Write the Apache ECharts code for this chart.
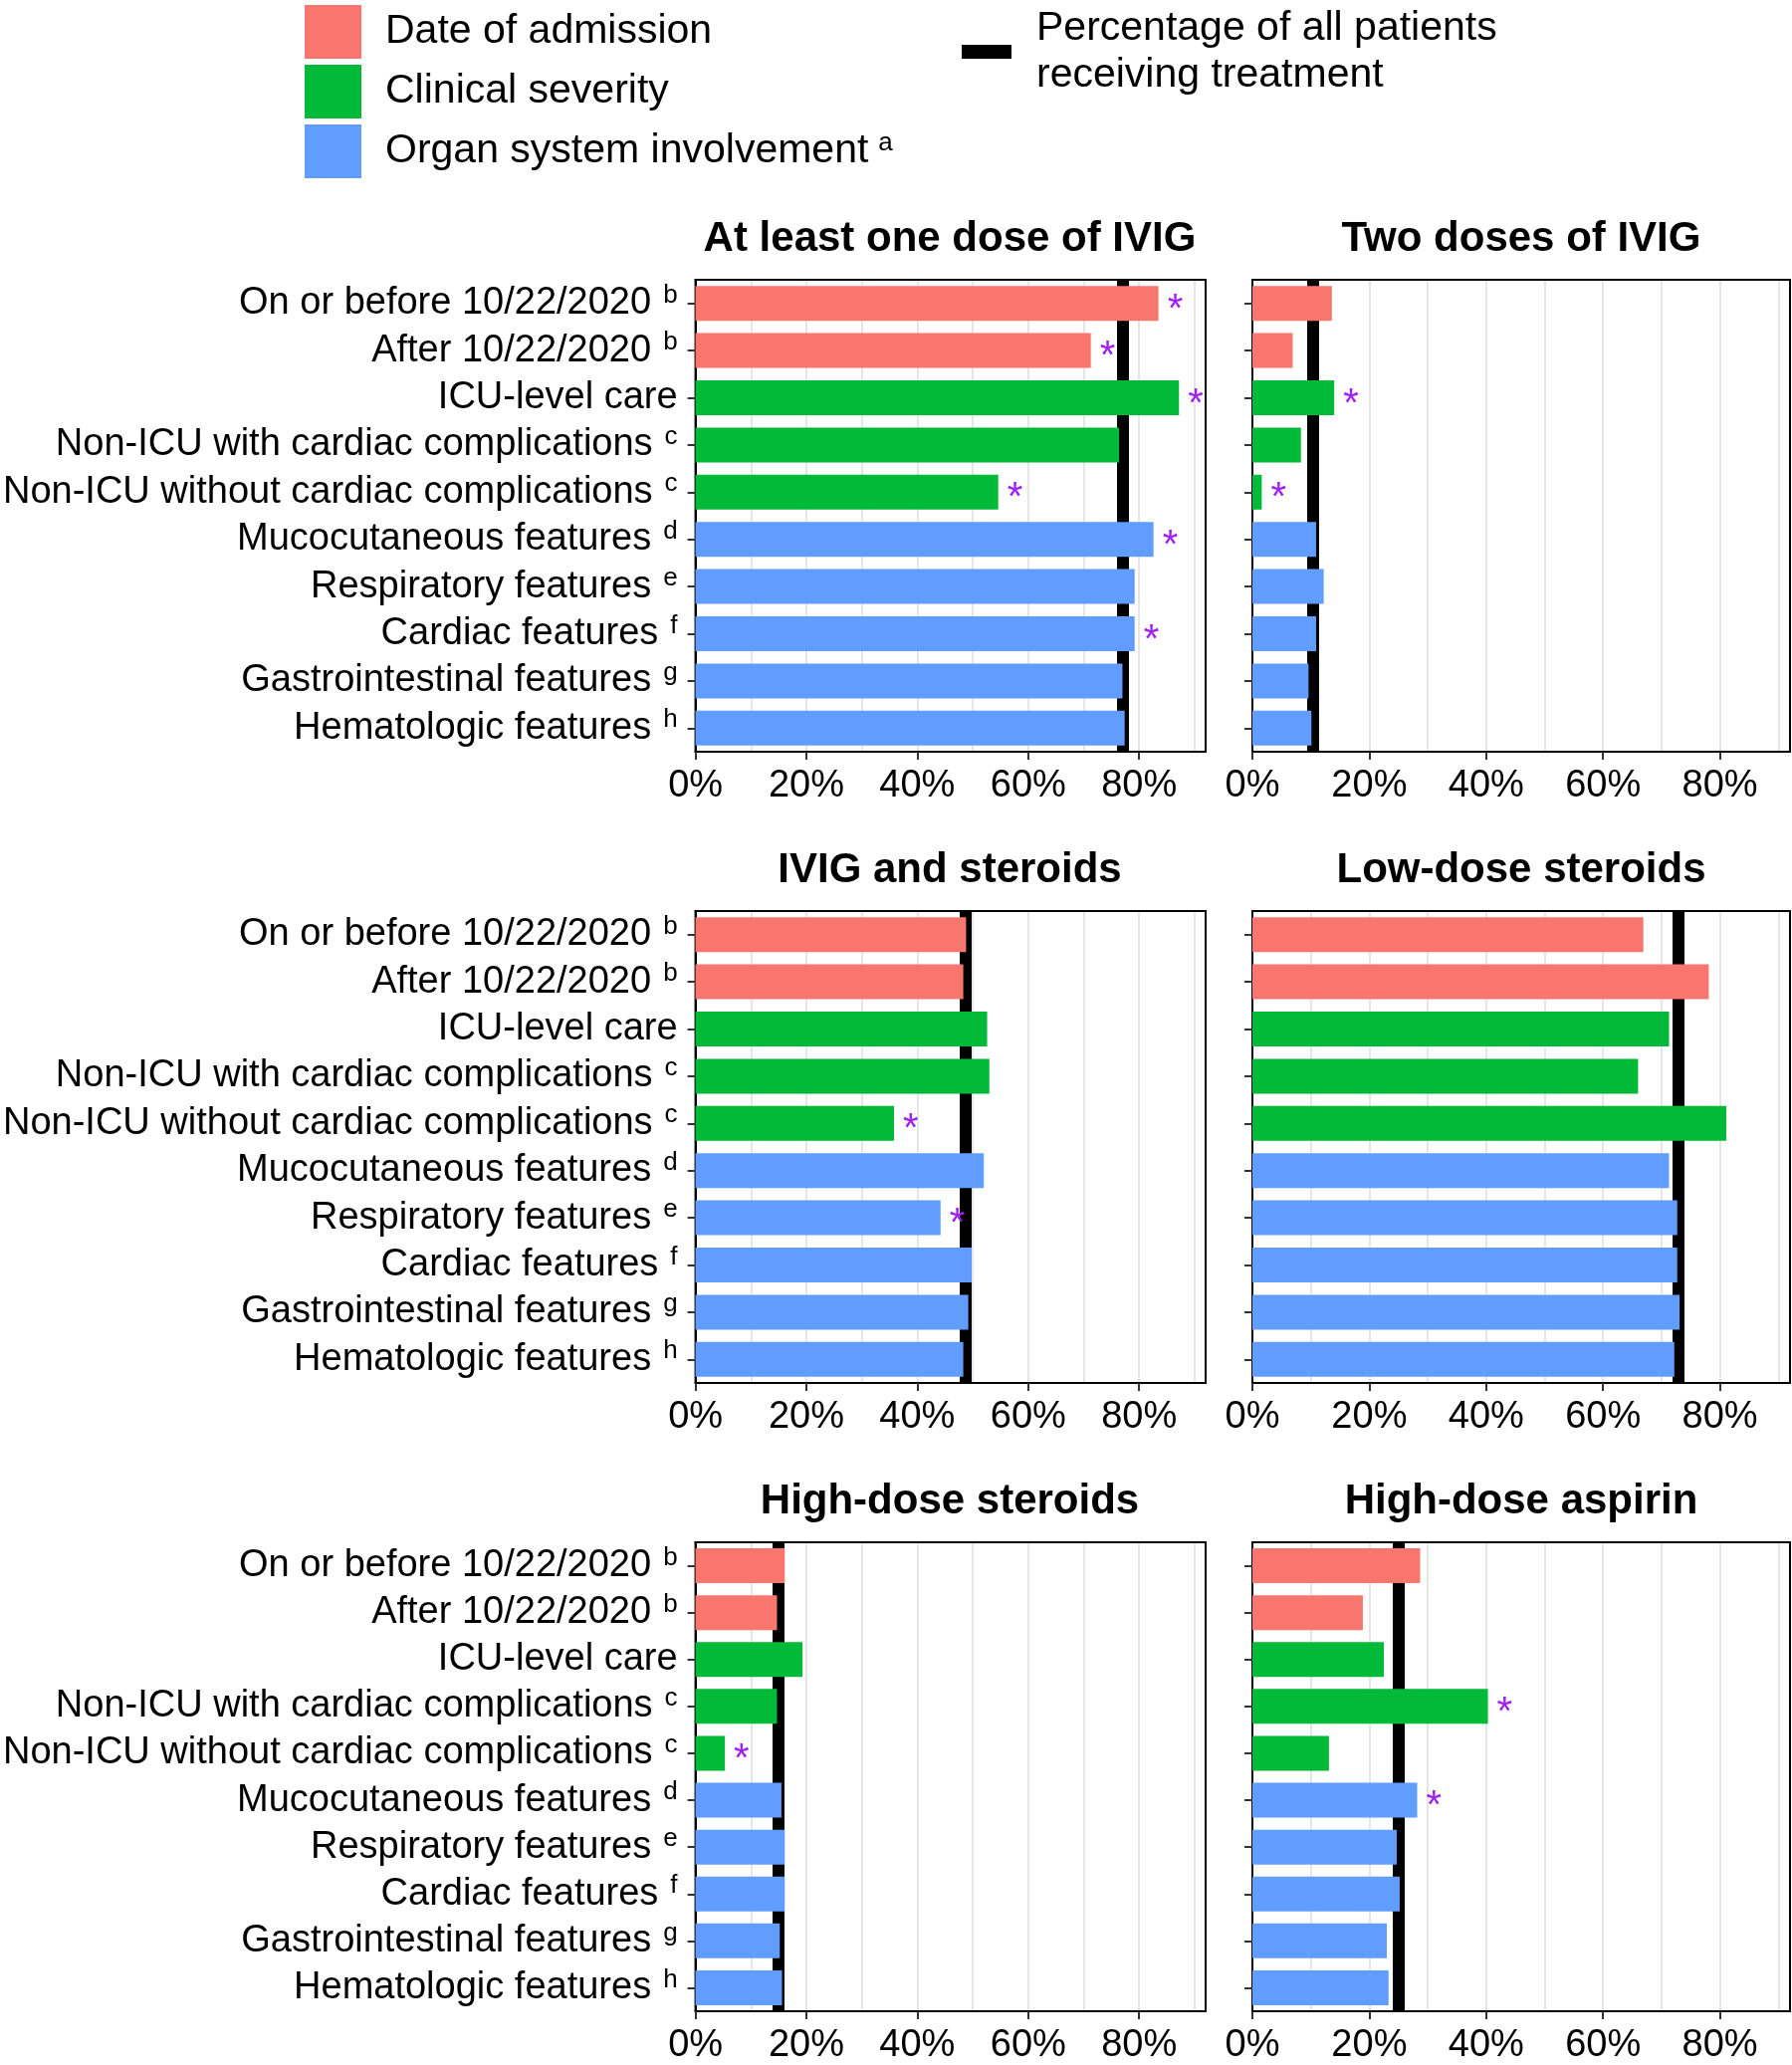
<!DOCTYPE html>
<html>
	<head>
		<meta charset="utf-8">
		<title>Treatment by subgroup</title>
		<style>
			html, body { margin: 0; padding: 0; background: #fff; }
		</style>
	</head>
	<body>
		<!-- chart area -->
		<div id="container" style="width: 1800px;height:2074px;"></div>
	</body>
	<script src="https://cdn.jsdelivr.net/npm/echarts@6.0.0/dist/echarts.min.js"></script>
	<script type="text/javascript">
		'use strict'
		var FONT = "'Liberation Sans', Arial, sans-serif";

		// categories (top to bottom) and their footnote letters
		var categories = ['On or before 10/22/2020', 'After 10/22/2020', 'ICU-level care',
			'Non-ICU with cardiac complications', 'Non-ICU without cardiac complications',
			'Mucocutaneous features', 'Respiratory features', 'Cardiac features',
			'Gastrointestinal features', 'Hematologic features'];
		var footnotes = ['b', 'b', '', 'c', 'c', 'd', 'e', 'f', 'g', 'h'];
		// 0 = date of admission, 1 = clinical severity, 2 = organ system
		var groupOf = [0, 0, 1, 1, 1, 2, 2, 2, 2, 2];
		var groupNames = ['Date of admission', 'Clinical severity', 'Organ system involvement'];
		var groupColors = ['#F8766D', '#00BA38', '#619CFF'];
		var refName = 'Percentage of all patients\nreceiving treatment';

		// percent of patients in each subgroup
		var ivigAny      = [83.5, 71.3, 87.2, 76.4, 54.6, 82.6, 79.2, 79.2, 77.0, 77.4];
		var ivigTwo      = [13.6, 6.9, 14.0, 8.3, 1.6, 10.9, 12.2, 10.9, 9.6, 10.1];
		var ivigSteroids = [48.8, 48.3, 52.6, 53.0, 35.8, 52.0, 44.2, 49.8, 49.2, 48.3];
		var lowSteroids  = [66.9, 78.1, 71.3, 66.0, 81.1, 71.3, 72.7, 72.7, 73.1, 72.2];
		var highSteroids = [16.1, 14.7, 19.3, 14.7, 5.3, 15.5, 16.1, 16.1, 15.2, 15.6];
		var aspirin      = [28.7, 18.9, 22.5, 40.3, 13.1, 28.2, 24.7, 25.2, 23.0, 23.3];

		// percent of all patients (black line)
		var overall = [77.1, 10.3, 48.6, 72.9, 15.0, 25.0];

		// rows marked with *
		var sigIvigAny      = [0, 1, 2, 4, 5, 7];
		var sigIvigTwo      = [2, 4];
		var sigIvigSteroids = [4, 6];
		var sigLowSteroids  = [];
		var sigHighSteroids = [4];
		var sigAspirin      = [3, 5];

		var titles = ['At least one dose of IVIG', 'Two doses of IVIG', 'IVIG and steroids',
			'Low-dose steroids', 'High-dose steroids', 'High-dose aspirin'];
		var xTicks = [0, 20, 40, 60, 80];

		var panels = [
			{ values: ivigAny, sig: sigIvigAny },
			{ values: ivigTwo, sig: sigIvigTwo },
			{ values: ivigSteroids, sig: sigIvigSteroids },
			{ values: lowSteroids, sig: sigLowSteroids },
			{ values: highSteroids, sig: sigHighSteroids },
			{ values: aspirin, sig: sigAspirin }
		];

		// panel layout
		var colLeft = [697, 1258];
		var colWidth = [514, 540];
		var rowTop = [281, 915, 1549];
		var panelH = 474;

		var myCharts = echarts.init(document.getElementById('container'));

		var grids = [], xAxes = [], yAxes = [], series = [], graphics = [];

		panels.forEach(function (p, k) {
			var col = k % 2, row = Math.floor(k / 2);
			grids.push({
				left: colLeft[col], top: rowTop[row], width: colWidth[col], height: panelH,
				show: true, borderColor: '#000', borderWidth: 2, backgroundColor: '#fff'
			});
			// bottom axis with labels (top edge of the frame drawn by a second axis below)
			xAxes.push({
				gridIndex: k, type: 'value', min: 0, max: 92, position: 'bottom',
				axisLine: { show: true, onZero: false, lineStyle: { color: '#000', width: 2 } },
				axisTick: { show: true, length: 8, customValues: xTicks, lineStyle: { color: '#333', width: 2 } },
				splitLine: { show: false },
				axisLabel: {
					customValues: xTicks, formatter: '{value}%', fontSize: 38, color: '#000',
					fontFamily: FONT, margin: 16
				}
			});
			// top axis: light grid every 10% plus the top edge of the frame
			xAxes.push({
				gridIndex: k, type: 'value', min: 0, max: 92, interval: 10, position: 'top',
				axisLine: { show: true, onZero: false, lineStyle: { color: '#000', width: 2 } },
				axisTick: { show: false }, axisLabel: { show: false },
				splitLine: { show: true, showMinLine: false, showMaxLine: false, lineStyle: { color: '#e6e6e6', width: 2 } }
			});
			yAxes.push({
				gridIndex: k, type: 'category', data: categories, inverse: true, position: 'left',
				axisLine: { show: true, onZero: false, lineStyle: { color: '#000', width: 2 } },
				axisTick: { show: true, alignWithLabel: true, length: 8, lineStyle: { color: '#333', width: 2 } },
				splitLine: { show: false },
				axisLabel: {
					show: col === 0, interval: 0, margin: 18, fontSize: 38, color: '#000', fontFamily: FONT,
					formatter: function (val, idx) {
						var s = footnotes[idx];
						return '{n|' + val + '}' + (s ? '{s|' + s + '}' : '');
					},
					rich: {
						n: { fontSize: 38, color: '#000', fontFamily: FONT },
						s: { fontSize: 26, color: '#000', fontFamily: FONT, padding: [0, 0, 16, 12] }
					}
				}
			});

			groupNames.forEach(function (name, g) {
				series.push({
					type: 'bar', name: name,
					xAxisIndex: 2 * k, yAxisIndex: k,
					barWidth: 35, barGap: '-100%', z: 3,
					itemStyle: { color: groupColors[g] },
					label: {
						show: false, position: 'right', distance: 9, offset: [0, 7],
						formatter: '*', fontSize: 40, color: '#a020f0', fontFamily: FONT
					},
					data: p.values.map(function (v, i) {
						if (groupOf[i] !== g) return '-';
						return p.sig.indexOf(i) >= 0 ? { value: v, label: { show: true } } : v;
					})
				});
			});

			// black reference line, under the bars
			series.push({
				type: 'line', name: refName, color: '#000',
				xAxisIndex: 2 * k, yAxisIndex: k, z: 1,
				data: [],
				markLine: {
					silent: true, z: 1, symbol: ['none', 'none'],
					label: { show: false },
					lineStyle: { color: '#000', width: 12, type: 'solid' },
					data: [{ xAxis: overall[k] }]
				}
			});

			graphics.push({
				type: 'text',
				x: colLeft[col] + colWidth[col] / 2, y: rowTop[row] - 41,
				style: {
					text: titles[k], fill: '#000', fontSize: 42, fontWeight: 'bold', fontFamily: FONT,
					align: 'center', verticalAlign: 'middle'
				}
			});
		});

		var option = {
			animation: false,
			grid: grids,
			xAxis: xAxes,
			yAxis: yAxes,
			series: series,
			graphic: graphics,
			legend: [
				{
					left: 301, top: 0, orient: 'vertical', icon: 'rect',
					itemWidth: 57, itemHeight: 54, itemGap: 6, selectedMode: false,
					data: groupNames,
					formatter: function (n) {
						return n === 'Organ system involvement' ? n + '{sup|a}' : n;
					},
					textStyle: {
						fontSize: 41, color: '#000', fontFamily: FONT, padding: [0, 0, 0, 19],
						rich: { sup: { fontSize: 26, color: '#000', fontFamily: FONT, padding: [0, 0, 16, 10] } }
					}
				},
				{
					left: 961, top: 0, icon: 'rect',
					itemWidth: 50, itemHeight: 14, selectedMode: false,
					data: [refName],
					textStyle: {
						fontSize: 41, lineHeight: 47, color: '#000', fontFamily: FONT, padding: [0, 0, 0, 20]
					}
				}
			]
		};

		myCharts.setOption(option);
	</script>
</html>
